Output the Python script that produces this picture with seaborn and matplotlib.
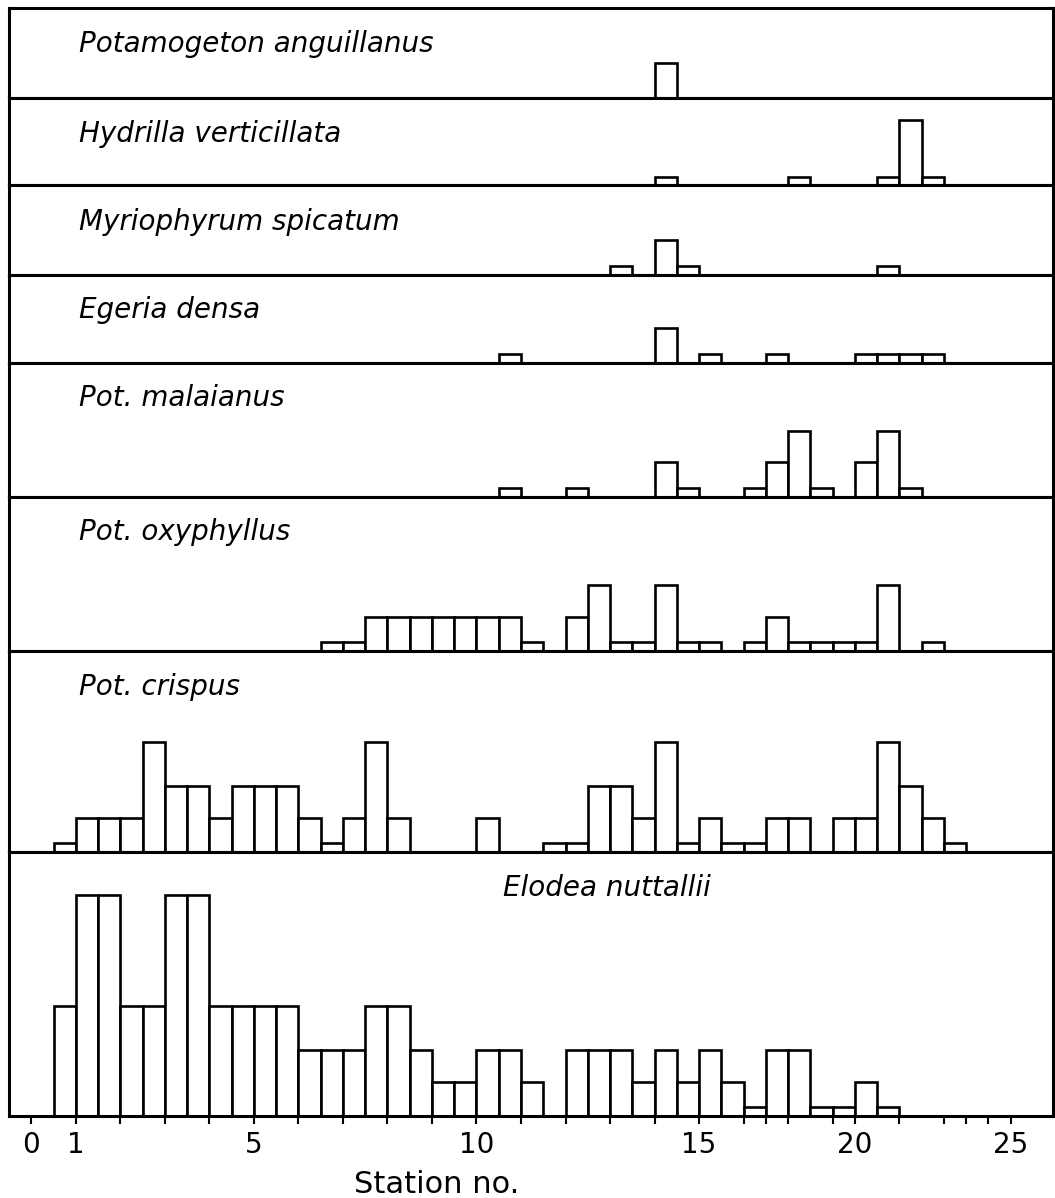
import numpy as np
import pandas as pd
import matplotlib
matplotlib.use("Agg")
import matplotlib.pyplot as plt
import seaborn as sns

sns.set_theme(style="ticks")
plt.rcParams['font.family'] = ['DejaVu Sans']

# ---- data -------------------------------------------------------------
# Each value is the bar height in one half-station cell (cell index 0..43).
species = ["Potamogeton anguillanus", "Hydrilla verticillata",
           "Myriophyrum spicatum", "Egeria densa", "Pot. malaianus",
           "Pot. oxyphyllus", "Pot. crispus", "Elodea nuttallii"]

anguillanus = [0, 0, 0, 0, 0, 0, 0, 0, 0, 0,
               0, 0, 0, 0, 0, 0, 0, 0, 0, 0,
               0, 0, 0, 0, 0, 0, 0, 0, 1.0, 0,
               0, 0, 0, 0, 0, 0, 0, 0, 0, 0,
               0, 0, 0, 0]
hydrilla = [0, 0, 0, 0, 0, 0, 0, 0, 0, 0,
            0, 0, 0, 0, 0, 0, 0, 0, 0, 0,
            0, 0, 0, 0, 0, 0, 0, 0, 0.25, 0,
            0, 0, 0, 0, 0.25, 0, 0, 0, 0.25, 1.9,
            0.25, 0, 0, 0]
myriophyrum = [0, 0, 0, 0, 0, 0, 0, 0, 0, 0,
               0, 0, 0, 0, 0, 0, 0, 0, 0, 0,
               0, 0, 0, 0, 0, 0, 0.25, 0, 1.0, 0.25,
               0, 0, 0, 0, 0, 0, 0, 0, 0.25, 0,
               0, 0, 0, 0]
egeria = [0, 0, 0, 0, 0, 0, 0, 0, 0, 0,
          0, 0, 0, 0, 0, 0, 0, 0, 0, 0,
          0, 0.25, 0, 0, 0, 0, 0, 0, 1.0, 0,
          0.25, 0, 0, 0.25, 0, 0, 0, 0.25, 0.25, 0.25,
          0.25, 0, 0, 0]
malaianus = [0, 0, 0, 0, 0, 0, 0, 0, 0, 0,
             0, 0, 0, 0, 0, 0, 0, 0, 0, 0,
             0, 0.25, 0, 0, 0.25, 0, 0, 0, 1.0, 0.25,
             0, 0, 0.25, 1.0, 1.9, 0.25, 0, 1.0, 1.9, 0.25,
             0, 0, 0, 0]
oxyphyllus = [0, 0, 0, 0, 0, 0, 0, 0, 0, 0,
              0, 0, 0, 0.25, 0.25, 1.0, 1.0, 1.0, 1.0, 1.0,
              1.0, 1.0, 0.25, 0, 1.0, 1.9, 0.25, 0.25, 1.9, 0.25,
              0.25, 0, 0.25, 1.0, 0.25, 0.25, 0.25, 0.25, 1.9, 0,
              0.25, 0, 0, 0]
crispus = [0, 0.25, 1.0, 1.0, 1.0, 3.2, 1.9, 1.9, 1.0, 1.9,
           1.9, 1.9, 1.0, 0.25, 1.0, 3.2, 1.0, 0, 0, 0,
           1.0, 0, 0, 0.25, 0.25, 1.9, 1.9, 1.0, 3.2, 0.25,
           1.0, 0.25, 0.25, 1.0, 1.0, 0, 1.0, 1.0, 3.2, 1.9,
           1.0, 0.25, 0, 0]
elodea = [0, 3.2, 6.4, 6.4, 3.2, 3.2, 6.4, 6.4, 3.2, 3.2,
          3.2, 3.2, 1.9, 1.9, 1.9, 3.2, 3.2, 1.9, 1.0, 1.0,
          1.9, 1.9, 1.0, 0, 1.9, 1.9, 1.9, 1.0, 1.9, 1.0,
          1.9, 1.0, 0.25, 1.9, 1.9, 0.25, 0.25, 1.0, 0.25, 0,
          0, 0, 0, 0]

series = [anguillanus, hydrilla, myriophyrum, egeria,
          malaianus, oxyphyllus, crispus, elodea]

# station number -> cell position of its tick on the x axis
station_nos = [0, 1, 2, 3, 4, 5, 6, 7, 8, 9, 10, 11, 12, 13, 14, 15,
               16, 17, 18, 19, 20, 21, 22, 23, 24, 25]
station_pos = [0, 2, 4, 6, 8, 10, 12, 14, 16, 18, 20, 22, 24, 26, 28, 30,
               32, 33, 34, 36, 37, 39, 41, 42, 43, 44]
labelled_stations = [0, 1, 5, 10, 15, 20, 25]

# ---- layout -----------------------------------------------------------
W, H = 1055, 1198
panel_px = [89.5, 88, 89, 88, 134, 154.5, 201, 264]
px_per_unit = 34.5
left_px, right_px, top_px, bottom_px = 9, 1053, 8, 1116

fig = plt.figure(figsize=(W / 100, H / 100), dpi=100)
gs = fig.add_gridspec(len(series), 1, height_ratios=panel_px, hspace=0,
                      left=left_px / W, right=right_px / W,
                      top=1 - top_px / H, bottom=1 - bottom_px / H)

centers = np.arange(len(elodea)) + 0.5
axes = []
for i, (name, vals) in enumerate(zip(species, series)):
    ax = fig.add_subplot(gs[i])
    df = pd.DataFrame({"x": centers, "h": vals})
    df = df[df["h"] > 0]
    sns.barplot(data=df, x="x", y="h", native_scale=True, width=1.0,
                color="white", edgecolor="black", linewidth=1.9,
                saturation=1, errorbar=None, ax=ax)
    ax.set_xlim(-1.0, 45.9)
    ax.set_ylim(0, panel_px[i] / px_per_unit)
    ax.set_xlabel("")
    ax.set_ylabel("")
    ax.set_yticks([])
    ax.set_facecolor("white")
    for sp in ax.spines.values():
        sp.set_visible(True)
        sp.set_color("black")
        sp.set_linewidth(2.2)
    if name.startswith("Elodea"):
        xf = (503 - left_px) / (right_px - left_px)
    else:
        xf = (79 - left_px) / (right_px - left_px)
    yf = 1 - 44 / panel_px[i]
    ax.text(xf, yf, name, transform=ax.transAxes, fontsize=20,
            style="italic", ha="left", va="baseline", color="black")
    if i < len(series) - 1:
        ax.set_xticks([])
    axes.append(ax)

axb = axes[-1]
axb.set_xticks(station_pos)
axb.set_xticklabels([str(s) if s in labelled_stations else ""
                     for s in station_nos])
axb.tick_params(axis="x", direction="out", length=5.8, width=1.5,
                labelsize=20, pad=5.0, colors="black")

fig.text(437 / W, 1 - 1193 / H, "Station no.", fontsize=22,
         ha="center", va="baseline", color="black")

fig.savefig("out.png", dpi=100, facecolor="white")
